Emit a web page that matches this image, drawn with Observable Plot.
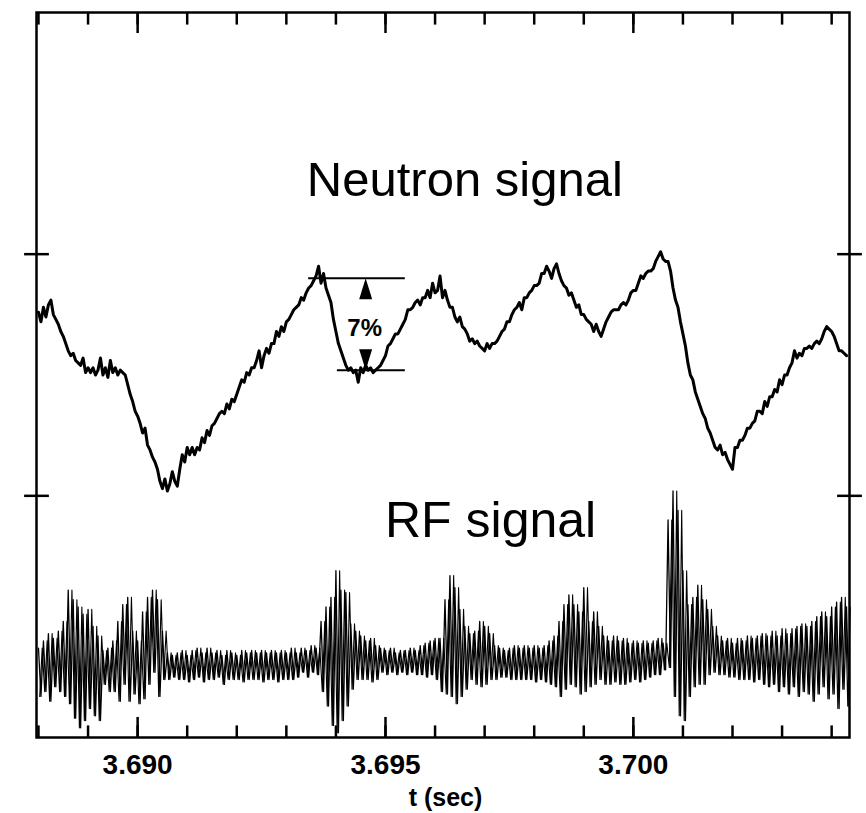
<!DOCTYPE html>
<html>
<head>
<meta charset="utf-8">
<script src="https://cdn.jsdelivr.net/npm/d3@7"></script>
<script src="https://cdn.jsdelivr.net/npm/@observablehq/plot@0.6"></script>
<style>
  html, body { margin: 0; padding: 0; background: #fff; }
  #chart svg { display: block; }
</style>
</head>
<body>
<div id="chart"></div>
<script>
// ---- Data (arbitrary vertical units) ----
const neutronStart = 3.6880;   // s
const neutronStep = 0.00005;   // s
const neutronSignal = [
  1.76,1.72,1.78,1.74,1.79,1.81,1.75,1.73,1.71,1.68,
  1.66,1.63,1.60,1.58,1.59,1.56,1.55,1.54,1.57,1.51,
  1.53,1.51,1.53,1.50,1.52,1.57,1.50,1.53,1.49,1.56,
  1.51,1.53,1.50,1.52,1.51,1.50,1.46,1.42,1.39,1.35,
  1.33,1.30,1.26,1.28,1.21,1.19,1.16,1.14,1.11,1.06,
  1.03,1.07,1.02,1.05,1.10,1.06,1.04,1.11,1.17,1.14,
  1.20,1.17,1.20,1.17,1.20,1.19,1.24,1.22,1.27,1.25,
  1.29,1.30,1.32,1.34,1.35,1.34,1.38,1.36,1.40,1.39,
  1.42,1.45,1.48,1.47,1.51,1.50,1.53,1.53,1.56,1.60,
  1.53,1.58,1.61,1.59,1.63,1.63,1.68,1.66,1.70,1.68,
  1.72,1.73,1.75,1.77,1.78,1.79,1.82,1.81,1.84,1.86,
  1.87,1.89,1.91,1.95,1.88,1.92,1.86,1.83,1.80,1.73,
  1.68,1.63,1.60,1.57,1.54,1.52,1.53,1.51,1.52,1.47,
  1.53,1.51,1.54,1.52,1.53,1.51,1.52,1.53,1.54,1.56,
  1.58,1.62,1.63,1.65,1.67,1.67,1.69,1.71,1.73,1.77,
  1.77,1.78,1.80,1.81,1.79,1.82,1.82,1.85,1.82,1.88,
  1.84,1.85,1.91,1.82,1.85,1.81,1.78,1.78,1.74,1.72,
  1.74,1.70,1.69,1.67,1.64,1.65,1.63,1.64,1.62,1.61,
  1.60,1.63,1.61,1.63,1.63,1.64,1.66,1.68,1.69,1.72,
  1.72,1.75,1.77,1.78,1.80,1.77,1.82,1.82,1.84,1.85,
  1.87,1.87,1.88,1.92,1.92,1.95,1.93,1.90,1.94,1.96,
  1.92,1.89,1.87,1.86,1.83,1.84,1.81,1.78,1.79,1.75,
  1.75,1.73,1.72,1.71,1.68,1.71,1.68,1.66,1.69,1.72,
  1.74,1.76,1.77,1.77,1.77,1.79,1.80,1.79,1.81,1.84,
  1.85,1.85,1.88,1.91,1.90,1.92,1.93,1.93,1.94,1.97,
  1.99,2.01,1.98,1.97,1.97,1.93,1.86,1.81,1.78,1.72,
  1.67,1.62,1.55,1.50,1.48,1.43,1.40,1.37,1.34,1.32,
  1.28,1.26,1.23,1.20,1.19,1.21,1.17,1.18,1.15,1.13,
  1.11,1.20,1.20,1.23,1.23,1.25,1.28,1.28,1.30,1.31,
  1.35,1.35,1.34,1.39,1.37,1.41,1.41,1.44,1.43,1.48,
  1.46,1.50,1.50,1.53,1.55,1.60,1.57,1.59,1.58,1.61,
  1.61,1.62,1.61,1.63,1.64,1.63,1.65,1.68,1.70,1.69,
  1.68,1.66,1.63,1.60,1.60,1.59,1.58
];

const rfStart = 3.6880;  // s
const rfStep = 0.0001;   // s
const rfHigh = [
  0.37,0.40,0.43,0.41,0.44,0.48,0.61,0.57,0.54,0.51,
  0.53,0.46,0.42,0.36,0.37,0.40,0.48,0.55,0.58,0.44,
  0.40,0.52,0.58,0.61,0.57,0.44,0.35,0.34,0.35,0.36,
  0.34,0.36,0.37,0.35,0.37,0.35,0.36,0.34,0.36,0.35,
  0.34,0.36,0.35,0.36,0.35,0.36,0.35,0.36,0.35,0.36,
  0.35,0.37,0.35,0.37,0.36,0.38,0.37,0.48,0.54,0.58,
  0.69,0.61,0.60,0.47,0.44,0.42,0.40,0.41,0.38,0.37,
  0.36,0.37,0.35,0.36,0.36,0.37,0.36,0.38,0.39,0.40,
  0.41,0.41,0.57,0.67,0.62,0.53,0.46,0.43,0.44,0.48,
  0.46,0.43,0.38,0.37,0.36,0.37,0.38,0.37,0.38,0.37,
  0.38,0.37,0.38,0.40,0.42,0.48,0.55,0.59,0.55,0.52,
  0.62,0.48,0.52,0.46,0.42,0.40,0.42,0.40,0.41,0.39,
  0.40,0.39,0.40,0.39,0.40,0.41,0.39,0.90,1.02,0.94,
  0.69,0.55,0.58,0.63,0.57,0.53,0.46,0.42,0.40,0.41,
  0.39,0.41,0.40,0.42,0.41,0.42,0.43,0.42,0.44,0.42,
  0.45,0.43,0.45,0.46,0.47,0.46,0.48,0.50,0.52,0.50,
  0.54,0.56,0.58,0.54
];
const rfLow = [
  0.17,0.19,0.15,0.21,0.19,0.17,0.14,0.08,0.04,0.07,
  0.12,0.09,0.07,0.22,0.19,0.19,0.15,0.22,0.15,0.18,
  0.14,0.16,0.22,0.27,0.17,0.24,0.24,0.25,0.24,0.24,
  0.23,0.24,0.25,0.23,0.24,0.24,0.25,0.22,0.24,0.24,
  0.24,0.23,0.24,0.24,0.24,0.23,0.24,0.24,0.23,0.24,
  0.24,0.24,0.25,0.27,0.25,0.27,0.26,0.19,0.13,0.05,
  0.02,0.07,0.13,0.20,0.24,0.24,0.24,0.23,0.24,0.27,
  0.26,0.27,0.26,0.27,0.26,0.27,0.26,0.26,0.25,0.26,
  0.24,0.19,0.18,0.17,0.14,0.17,0.20,0.24,0.22,0.21,
  0.22,0.24,0.24,0.25,0.25,0.24,0.24,0.24,0.24,0.24,
  0.23,0.24,0.23,0.22,0.21,0.17,0.20,0.22,0.21,0.18,
  0.19,0.21,0.22,0.24,0.22,0.22,0.23,0.22,0.22,0.23,
  0.24,0.23,0.24,0.25,0.26,0.26,0.28,0.29,0.17,0.09,
  0.07,0.17,0.21,0.22,0.22,0.26,0.27,0.26,0.26,0.25,
  0.25,0.24,0.24,0.24,0.23,0.24,0.22,0.21,0.22,0.19,
  0.21,0.18,0.21,0.17,0.19,0.18,0.15,0.18,0.21,0.16,
  0.18,0.12,0.20,0.13
];

const xTicksMinor = [3.688,3.689,3.690,3.691,3.692,3.693,3.694,3.695,3.696,3.697,3.698,3.699,3.700,3.701,3.702,3.703,3.704];
const xTicksMajor = [3.690, 3.695, 3.700];
const yTicks = [1, 2];

// 7% annotation: the two signal levels and their horizontal extents
const annoLevel = [1.90, 1.52];
const annoStart = [3.69345, 3.69403];
const annoEnd = [3.69540, 3.69540];
const annoArrowT = 3.69460;

// ---- Build tables for the library ----
const xDomain = [3.68796, 3.70436];
const yDomain = [0, 3];
const neutron = neutronSignal.map((v, i) => ({t: neutronStart + i * neutronStep, v}));
// RF trace drawn as two interleaved zig-zags between the envelope values
const rfA = rfHigh.flatMap((hi, i) => [
  {t: rfStart + i * rfStep, v: hi},
  {t: rfStart + (i + 0.5) * rfStep, v: rfLow[i]}
]);
const rfB = rfHigh.flatMap((hi, i) => [
  {t: rfStart + (i + 0.25) * rfStep, v: rfLow[i]},
  {t: rfStart + (i + 0.75) * rfStep, v: hi}
]);
const anno = annoLevel.map((level, i) => ({level, t1: annoStart[i], t2: annoEnd[i]}));
const arrows = [
  {t: annoArrowT, v: annoLevel[0], rot: 0},
  {t: annoArrowT, v: annoLevel[1], rot: 180}
];
const minorLen = 0.05, majorLen = 0.085;
const tickSegs = [
  ...xTicksMinor.map(t => ({t, a: yDomain[0], b: yDomain[0] + minorLen})),
  ...xTicksMinor.map(t => ({t, a: yDomain[1], b: yDomain[1] - minorLen})),
  ...xTicksMajor.map(t => ({t, a: yDomain[0], b: yDomain[0] + majorLen})),
  ...xTicksMajor.map(t => ({t, a: yDomain[1], b: yDomain[1] - majorLen}))
];

const arrowHead = {
  draw(ctx) {
    ctx.moveTo(0, 0);
    ctx.lineTo(6.5, 21);
    ctx.lineTo(-6.5, 21);
    ctx.closePath();
  }
};

const tickHalf = 0.00025;
const font = "'Liberation Sans', Arial, Helvetica, sans-serif";

const chart = Plot.plot({
  width: 866,
  height: 813,
  marginLeft: 36,
  marginRight: 17,
  marginTop: 12,
  marginBottom: 76,
  x: {domain: xDomain},
  y: {domain: yDomain, axis: null},
  style: {fontFamily: font, color: "black"},
  marks: [
    // inward tick marks on the bottom and top edges
    Plot.link(tickSegs, {x1: "t", x2: "t", y1: "a", y2: "b", stroke: "black", strokeWidth: 2.5}),
    // crossing y ticks on both sides
    Plot.link(yTicks, {y1: d => d, y2: d => d, x1: () => xDomain[0] - tickHalf, x2: () => xDomain[0] + tickHalf, stroke: "black", strokeWidth: 2.5}),
    Plot.link(yTicks, {y1: d => d, y2: d => d, x1: () => xDomain[1] - tickHalf, x2: () => xDomain[1] + tickHalf, stroke: "black", strokeWidth: 2.5}),
    // signals
    Plot.line(rfA, {x: "t", y: "v", stroke: "black", strokeWidth: 1.3}),
    Plot.line(rfB, {x: "t", y: "v", stroke: "black", strokeWidth: 1.1}),
    Plot.line(neutron, {x: "t", y: "v", stroke: "black", strokeWidth: 3, strokeLinejoin: "round"}),
    // 7% annotation
    Plot.ruleY(anno, {y: "level", x1: "t1", x2: "t2", stroke: "black", strokeWidth: 2}),
    Plot.dot(arrows, {x: "t", y: "v", rotate: "rot", symbol: arrowHead, fill: "black", stroke: "none", r: 5}),
    Plot.text(["7%"], {x: 3.69458, y: 1.66, text: d => d, fontSize: 24, fontWeight: "bold", lineAnchor: "bottom", textAnchor: "middle", fill: "black"}),
    // titles
    Plot.text(["Neutron signal"], {x: 3.69660, y: 2.24, text: d => d, fontSize: 49, lineAnchor: "bottom", textAnchor: "middle", fill: "black"}),
    Plot.text(["RF signal"], {x: 3.69712, y: 0.83, text: d => d, fontSize: 50, lineAnchor: "bottom", textAnchor: "middle", fill: "black"}),
    // x axis labels
    Plot.axisX(xTicksMajor, {anchor: "bottom", tickSize: 0, tickPadding: 17, tickFormat: d3.format(".3f"), fontSize: 28, fontWeight: "bold", label: null}),
    Plot.text(["t (sec)"], {x: 3.69621, frameAnchor: "bottom", dy: 68, text: d => d, fontSize: 25, fontWeight: "bold", lineAnchor: "bottom", textAnchor: "middle", fill: "black"}),
    Plot.frame({stroke: "black", strokeWidth: 2.5})
  ]
});

document.getElementById("chart").appendChild(chart);
</script>
</body>
</html>
